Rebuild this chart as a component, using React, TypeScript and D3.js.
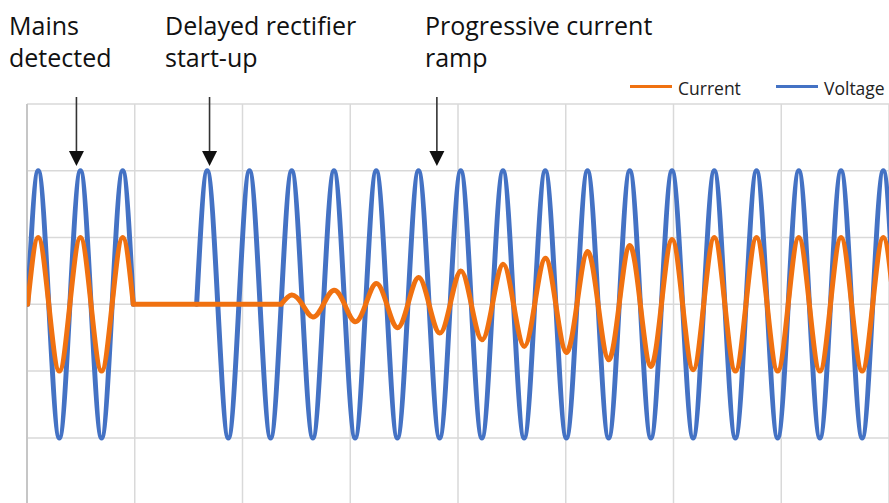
import React from "react";
import * as d3 from "d3";

// ---- data ----
const PERIOD_MS = 20; // mains cycle
const xTicksMs = [0, 51, 102, 153, 204, 255, 306, 357, 408];
const yTicks = [-3, -2, -1, 0, 1, 2, 3];

// Voltage: half-cycle peak values per run
const voltageRun1Start = 0.3;
const voltageRun1Peaks = [2, -2, 2, -2, 2];
const voltageRun2Start = 80.3;
const voltageRun2Peaks = [
  2, -2, 2, -2, 2, -2, 2, -2, 2, -2, 2, -2, 2, -2, 2, -2, 2, -2, 2, -2, 2, -2,
  2, -2, 2, -2, 2, -2, 2, -2, 2, -2, 2,
];

// Current: first run, flat section, then progressive ramp
const currentRun1Start = 0.3;
const currentRun1Peaks = [1, -1, 1, -1, 1];
const currentFlat = [
  [50.3, 0],
  [120.3, 0],
];
const currentRampStart = 120.3;
const currentRampPeaks = [
  0.14, -0.19, 0.21, -0.26, 0.31, -0.35, 0.4, -0.43, 0.5, -0.53, 0.6, -0.63,
  0.69, -0.72, 0.79, -0.83, 0.88, -0.93, 0.97, -0.98, 1, -1, 1, -1, 1, -1, 1,
  -1, 1,
];

const legendLabels = ["Current", "Voltage"];
const annotationLabels = [
  ["Mains", "detected"],
  ["Delayed rectifier", "start-up"],
  ["Progressive current", "ramp"],
];
const annotationTimesMs = [23.4, 86.4, 194];

const COLORS = { Current: "#F07110", Voltage: "#4472C4" };

// half-cycle peaks -> zero/peak points
function runPoints(start: number, peaks: number[]): [number, number][] {
  const half = PERIOD_MS / 2;
  const pts: [number, number][] = [];
  peaks.forEach((p, i) => {
    pts.push([start + i * half, 0]);
    pts.push([start + i * half + half / 2, p]);
  });
  pts.push([start + peaks.length * half, 0]);
  return pts;
}

export default function App() {
  const W = 889;
  const H = 503;
  const x = d3.scaleLinear().domain([0, 408]).range([27, 889]);
  const y = d3.scaleLinear().domain([-3, 3]).range([504.7, 103.9]);

  const smooth = d3
    .line<[number, number]>()
    .x((d) => x(d[0]))
    .y((d) => y(d[1]))
    .curve(d3.curveNatural);
  const straight = d3
    .line<[number, number]>()
    .x((d) => x(d[0]))
    .y((d) => y(d[1]));

  const voltagePath =
    (smooth(runPoints(voltageRun1Start, voltageRun1Peaks)) || "") +
    (smooth(runPoints(voltageRun2Start, voltageRun2Peaks)) || "");
  const currentPath =
    (smooth(runPoints(currentRun1Start, currentRun1Peaks)) || "") +
    (straight(currentFlat as [number, number][]) || "") +
    (smooth(runPoints(currentRampStart, currentRampPeaks)) || "");

  const font = "'Open Sans', 'Noto Sans', sans-serif";
  const labelX = [9, 165, 425];
  const legendX = [630, 776];

  return (
    <svg
      width={W}
      height={H}
      style={{ position: "absolute", left: 0, top: 0, background: "#fff" }}
      fontFamily={font}
    >
      <defs>
        <clipPath id="plot">
          <rect x={27} y={95} width={W - 27} height={H - 95} />
        </clipPath>
      </defs>
      {/* gridlines */}
      {yTicks.map((t) => (
        <line
          key={"h" + t}
          x1={27}
          x2={W}
          y1={y(t)}
          y2={y(t)}
          stroke="#d9d9d9"
          strokeWidth={1.5}
        />
      ))}
      {xTicksMs.map((t) => (
        <line
          key={"v" + t}
          x1={x(t)}
          x2={x(t)}
          y1={y(3)}
          y2={H}
          stroke={t === 0 ? "#c6c6c6" : "#d9d9d9"}
          strokeWidth={t === 0 ? 2 : 1.5}
        />
      ))}
      <g clipPath="url(#plot)">
        <path
          d={voltagePath}
          fill="none"
          stroke={COLORS.Voltage}
          strokeWidth={5}
          strokeLinecap="round"
          strokeLinejoin="round"
        />
        <path
          d={currentPath}
          fill="none"
          stroke={COLORS.Current}
          strokeWidth={5}
          strokeLinecap="round"
          strokeLinejoin="round"
        />
      </g>
      {/* legend */}
      {legendLabels.map((l, i) => (
        <g key={l}>
          <line
            x1={legendX[i]}
            x2={legendX[i] + 42}
            y1={86.5}
            y2={86.5}
            stroke={(COLORS as any)[l]}
            strokeWidth={3}
          />
          <text x={legendX[i] + 48} y={94.5} fontSize={17.5} fill="#222">
            {l}
          </text>
        </g>
      ))}
      {/* annotations */}
      {annotationLabels.map((lines, i) => (
        <g key={i}>
          {lines.map((s, j) => (
            <text
              key={j}
              x={labelX[i]}
              y={35 + j * 32}
              fontSize={25}
              fill="#111"
            >
              {s}
            </text>
          ))}
          <line
            x1={x(annotationTimesMs[i])}
            x2={x(annotationTimesMs[i])}
            y1={97}
            y2={152}
            stroke="#333"
            strokeWidth={1.6}
          />
          <path
            d={`M${x(annotationTimesMs[i]) - 7.5},151 L${
              x(annotationTimesMs[i]) + 7.5
            },151 L${x(annotationTimesMs[i])},166 Z`}
            fill="#111"
          />
        </g>
      ))}
    </svg>
  );
}
